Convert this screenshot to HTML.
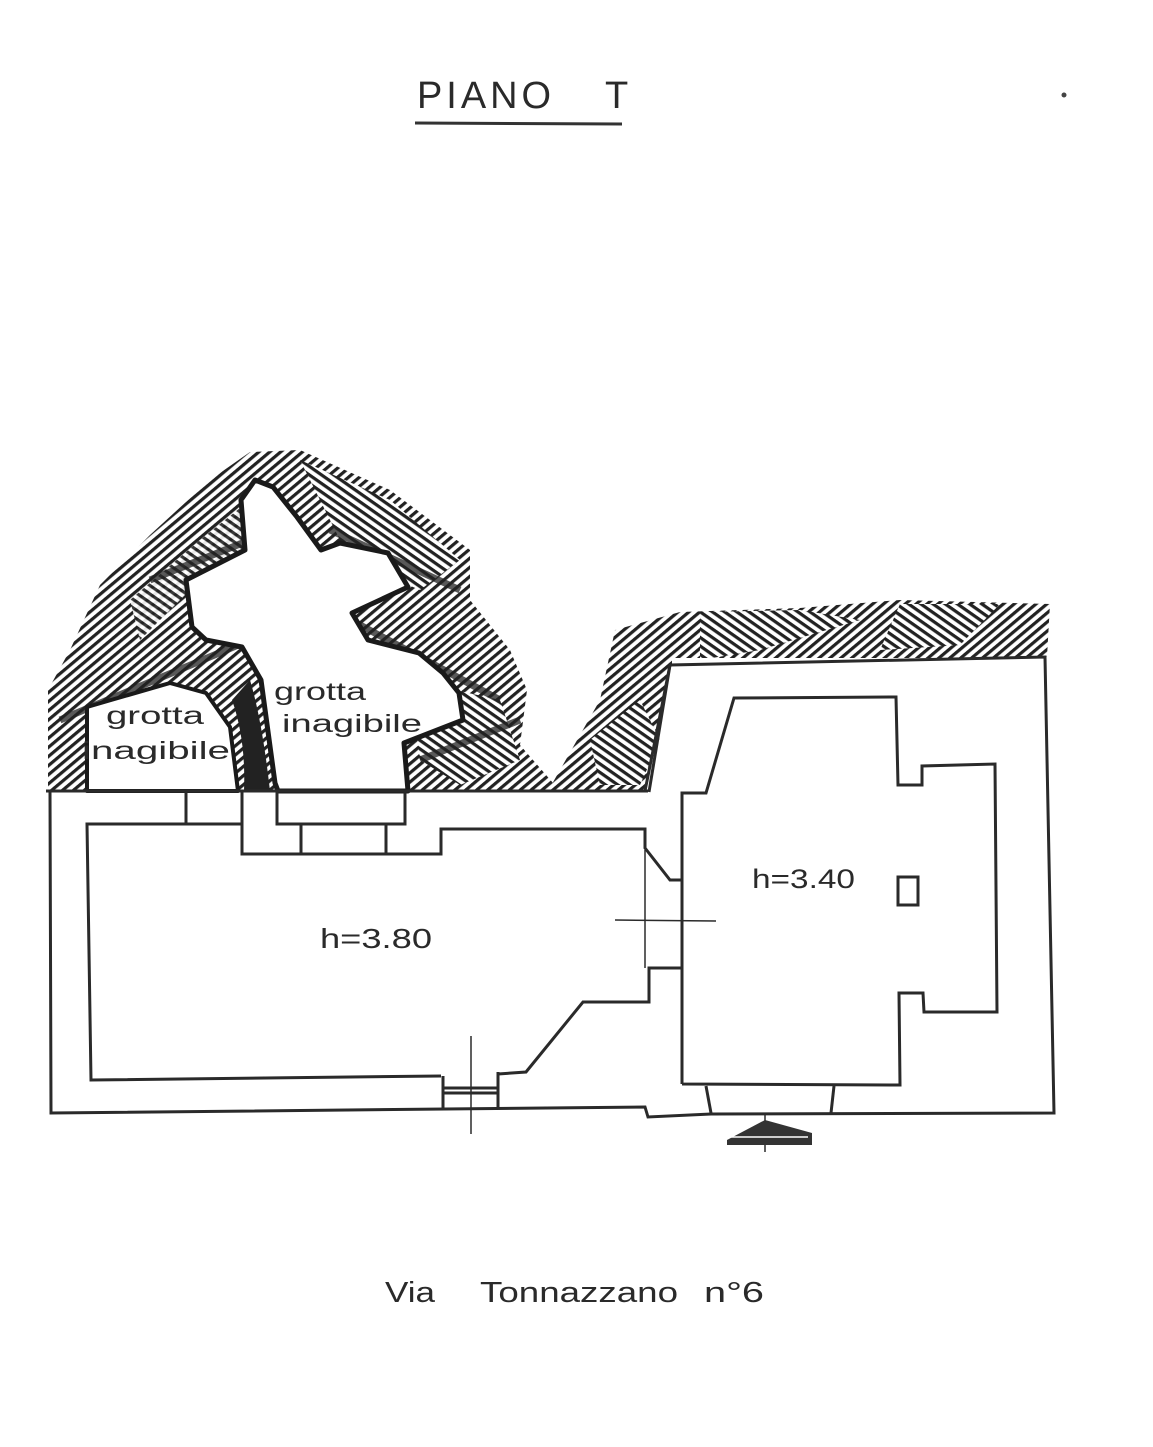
<!DOCTYPE html>
<html><head><meta charset="utf-8"><style>
html,body{margin:0;padding:0;background:#fff;}
svg{display:block;}
text{font-family:"Liberation Sans",sans-serif;fill:#2a2a2a;}
</style></head><body>
<svg width="1153" height="1447" viewBox="0 0 1153 1447" xmlns="http://www.w3.org/2000/svg">
<defs>
<pattern id="h1" width="7" height="7" patternUnits="userSpaceOnUse" patternTransform="rotate(-40)">
<rect width="7" height="7" fill="#fff"/><rect width="7" height="3.2" fill="#222"/>
</pattern>
<pattern id="h2" width="7" height="7" patternUnits="userSpaceOnUse" patternTransform="rotate(35)">
<rect width="7" height="7" fill="#fff"/><rect width="7" height="3.2" fill="#222"/>
</pattern>
</defs>

<!-- title -->
<text x="417" y="108" font-size="38" letter-spacing="4" textLength="138" lengthAdjust="spacingAndGlyphs">PIANO</text>
<text x="605" y="108" font-size="38">T</text>
<line x1="415" y1="123" x2="622" y2="124" stroke="#333" stroke-width="3"/>
<circle cx="1064" cy="95" r="2.5" fill="#444"/>

<!-- left rock -->
<polygon points="48,791 48,690 70,650 100,585 150,535 210,480 250,452 300,450 390,490 470,550 470,600 510,650 527,690 520,745 560,791" fill="url(#h1)"/>
<polygon points="130,600 200,540 250,500 240,560 190,590 140,640" fill="url(#h2)" opacity="0.9"/>
<polygon points="300,460 390,500 460,560 420,590 350,560" fill="url(#h2)"/>
<polygon points="410,680 500,700 520,760 460,785 420,760" fill="url(#h2)"/>
<g stroke="#222" stroke-width="7" opacity="0.75">
<line x1="60" y1="720" x2="250" y2="640"/>
<line x1="150" y1="580" x2="250" y2="540"/>
<line x1="330" y1="530" x2="460" y2="590"/>
<line x1="360" y1="625" x2="500" y2="700"/>
<line x1="420" y1="760" x2="520" y2="720"/>
<line x1="620" y1="650" x2="1040" y2="640"/>
<line x1="560" y1="780" x2="660" y2="700"/>
</g>
<!-- right rock -->
<polygon points="548,791 600,700 615,630 680,612 800,608 900,600 1050,604 1047,657 670,665 645,791" fill="url(#h1)"/>
<polygon points="700,612 800,610 860,620 760,650 700,660" fill="url(#h2)"/>
<polygon points="900,604 1000,604 960,645 880,650" fill="url(#h2)"/>
<polygon points="590,740 640,700 660,740 640,785 600,785" fill="url(#h2)"/>
<rect x="672" y="658" width="380" height="10" fill="#fff"/>

<!-- big grotto -->
<polygon points="273,487 255,480 241,500 245,550 186,580 192,627 206,640 242,647 261,680 275,783 278,791 405,791 408,791 404,743 463,720 459,693 443,673 419,653 368,640 352,613 408,587 388,553 340,543 321,550 297,517" fill="#fff" stroke="#1a1a1a" stroke-width="5" stroke-linejoin="round"/>
<path d="M232,700 Q246,740 244,791 L270,791 Q262,720 250,680 Z" fill="#222"/>
<!-- small grotto -->
<polygon points="87,791 87,707 111,700 170,683 206,693 230,727 238,791" fill="#fff" stroke="#1a1a1a" stroke-width="4" stroke-linejoin="round"/>

<text x="274" y="700" font-size="25" textLength="92" lengthAdjust="spacingAndGlyphs">grotta</text>
<text x="282" y="732" font-size="25" textLength="140" lengthAdjust="spacingAndGlyphs">inagibile</text>
<text x="106" y="724" font-size="25" textLength="98" lengthAdjust="spacingAndGlyphs">grotta</text>
<text x="82" y="759" font-size="25" textLength="148" lengthAdjust="spacingAndGlyphs">inagibile</text>

<g fill="none" stroke="#2a2a2a" stroke-width="3" stroke-linejoin="miter">
<line x1="46" y1="791" x2="648" y2="791"/>
<polyline points="50,791 51,1113 645,1107 648,1117 711,1114 1054,1113 1045,657 670,665 645,791"/>
<line x1="670" y1="665" x2="649" y2="792"/>
<polyline points="242,824 87,824 91,1080 441,1076"/>
<line x1="186" y1="792" x2="186" y2="824"/>
<polyline points="242,792 242,854 441,854 441,829 645,829 645,848 670,880 682,880"/>
<polyline points="277,792 277,824 405,824 405,792"/>
<line x1="301" y1="824" x2="301" y2="854"/>
<line x1="386" y1="824" x2="386" y2="854"/>
<polyline points="498,1074 526,1072 583,1002 649,1002 649,968 682,968"/>
<polyline points="443,1076 443,1110"/>
<polyline points="498,1072 498,1108"/>
<line x1="443" y1="1088" x2="498" y2="1088"/>
<line x1="443" y1="1093" x2="498" y2="1093"/>
<polyline points="682,1084 682,793 706,793 734,698 896,697 898,785 922,785 922,766 995,764 997,1012 924,1012 923,993 899,993 900,1085 682,1084"/>
<line x1="706" y1="1086" x2="711" y2="1113"/>
<line x1="834" y1="1086" x2="831" y2="1113"/>
<rect x="898" y="877" width="20" height="28" stroke-width="3"/>
</g>
<g stroke="#2a2a2a" stroke-width="1.5">
<line x1="645" y1="850" x2="645" y2="968"/>
<line x1="615" y1="920" x2="716" y2="921"/>
<line x1="471" y1="1036" x2="471" y2="1134"/>
<line x1="765" y1="1114" x2="765" y2="1152"/>
</g>
<polygon points="727,1140 765,1120 812,1133 812,1145 727,1145" fill="#333"/>
<line x1="730" y1="1137" x2="808" y2="1137" stroke="#fff" stroke-width="1.5"/>

<text x="320" y="948" font-size="28" textLength="112" lengthAdjust="spacingAndGlyphs">h=3.80</text>
<text x="752" y="888" font-size="27" textLength="103" lengthAdjust="spacingAndGlyphs">h=3.40</text>

<text x="385" y="1302" font-size="29" textLength="50" lengthAdjust="spacingAndGlyphs">Via</text>
<text x="480" y="1302" font-size="29" textLength="198" lengthAdjust="spacingAndGlyphs">Tonnazzano</text>
<text x="704" y="1302" font-size="29" textLength="60" lengthAdjust="spacingAndGlyphs">n°6</text>
</svg>
</body></html>
